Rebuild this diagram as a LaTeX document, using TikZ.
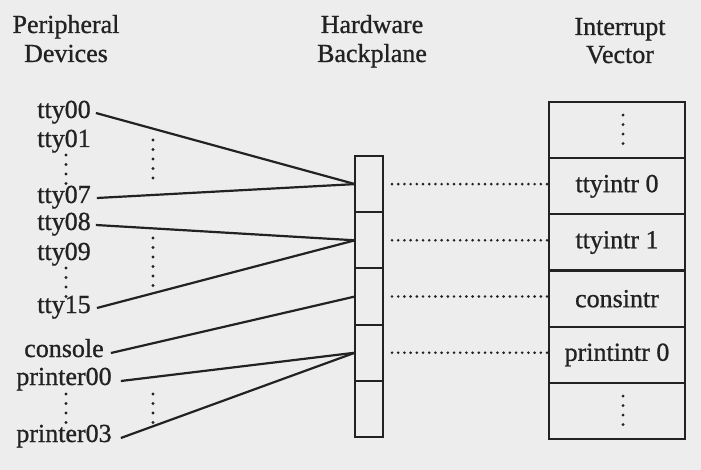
\documentclass[tikz,border=0pt]{standalone}
\usepackage{fontspec}
\setmainfont{Liberation Serif}[UprightFeatures={FakeBold=0.9}]
\definecolor{ink}{HTML}{222222}
\definecolor{paper}{HTML}{EDEDED}
\begin{document}
\begin{tikzpicture}[x=1pt,y=-1pt,
  font=\fontsize{26}{29}\selectfont,
  lbl/.style={inner sep=0pt, anchor=base, text=ink},
  bpcell/.style={draw=ink, line width=2.2pt, minimum width=28pt, minimum height=56.2pt, inner sep=0pt, outer sep=0pt, anchor=north west},
  ivcell/.style={draw=ink, line width=2.2pt, minimum width=136pt, minimum height=56.2pt, inner sep=0pt, outer sep=0pt, anchor=north west, text=ink},
  wire/.style={draw=ink, line width=2.2pt},
  dotline/.style={draw=ink, line width=2.9pt, line cap=round, dash pattern=on 0pt off 6.2pt},
  vdots/.style={draw=ink, line width=3.2pt, line cap=round, dash pattern=on 0pt off 9.5pt}
]
\fill[paper] (0,0) rectangle (701,470);
\useasboundingbox (0,0) rectangle (701,470);

% titles
\node[lbl] (t1a) at (66,33) {Peripheral};
\node[lbl] (t1b) at (66,62) {Devices};
\node[lbl] (t2a) at (372,33) {Hardware};
\node[lbl] (t2b) at (372,62) {Backplane};
\node[lbl] (t3a) at (620,35) {Interrupt};
\node[lbl] (t3b) at (620,63) {Vector};

% devices
\node[lbl] (d00) at (64,118) {tty00};
\node[lbl] (d01) at (64,147) {tty01};
\node[lbl] (d07) at (64,203) {tty07};
\node[lbl] (d08) at (64,230) {tty08};
\node[lbl] (d09) at (64,260) {tty09};
\node[lbl] (d15) at (64,313) {tty15};
\node[lbl] (dcon) at (64,357) {console};
\node[lbl] (dp00) at (64,385) {printer00};
\node[lbl] (dp03) at (64,442) {printer03};

% backplane
\node[bpcell] (bp1) at (355,156) {};
\node[bpcell] (bp2) at (bp1.south west) {};
\node[bpcell] (bp3) at (bp2.south west) {};
\node[bpcell] (bp4) at (bp3.south west) {};
\node[bpcell] (bp5) at (bp4.south west) {};

% interrupt vector
\node[ivcell] (iv1) at (549,102) {};
\node[ivcell] (iv2) at (iv1.south west) {ttyintr 0};
\node[ivcell] (iv3) at (iv2.south west) {ttyintr 1};
\node[ivcell] (iv4) at (iv3.south west) {consintr};
\node[ivcell] (iv5) at (iv4.south west) {printintr 0};
\node[ivcell] (iv6) at (iv5.south west) {};

% wires
\draw[wire] ([shift={(5,-5)}]d00.base east) -- (bp1.west);
\draw[wire] ([shift={(6,-5)}]d07.base east) -- (bp1.west);
\draw[wire] ([shift={(5,-5)}]d08.base east) -- (bp2.west);
\draw[wire] ([shift={(6,-5)}]d15.base east) -- (bp2.west);
\draw[wire] ([shift={(7,-4)}]dcon.base east) -- (bp3.west);
\draw[wire] ([shift={(9,-4)}]dp00.base east) -- (bp4.west);
\draw[wire] ([shift={(9,-4)}]dp03.base east) -- (bp4.west);

% dotted links backplane -> vector
\draw[dotline] ([xshift=9pt]bp1.east) -- (bp1.east -| iv2.west);
\draw[dotline] ([xshift=9pt]bp2.east) -- (bp2.east -| iv3.west);
\draw[dotline] ([xshift=9pt]bp3.east) -- (bp3.east -| iv4.west);
\draw[dotline] ([xshift=9pt]bp4.east) -- (bp4.east -| iv5.west);

% vertical ellipses
\draw[vdots] (66,155) -- (66,184);
\draw[vdots] (66,268) -- (66,297);
\draw[vdots] (66,394) -- (66,423);
\draw[vdots] (153,140) -- (153,184);
\draw[vdots] (153,238) -- (153,286);
\draw[vdots] (153,394) -- (153,423);
\draw[vdots] (iv1.center) ++(6,-15) -- ++(0,30);
\draw[vdots] (iv6.center) ++(6,-15) -- ++(0,30);
\end{tikzpicture}
\end{document}
